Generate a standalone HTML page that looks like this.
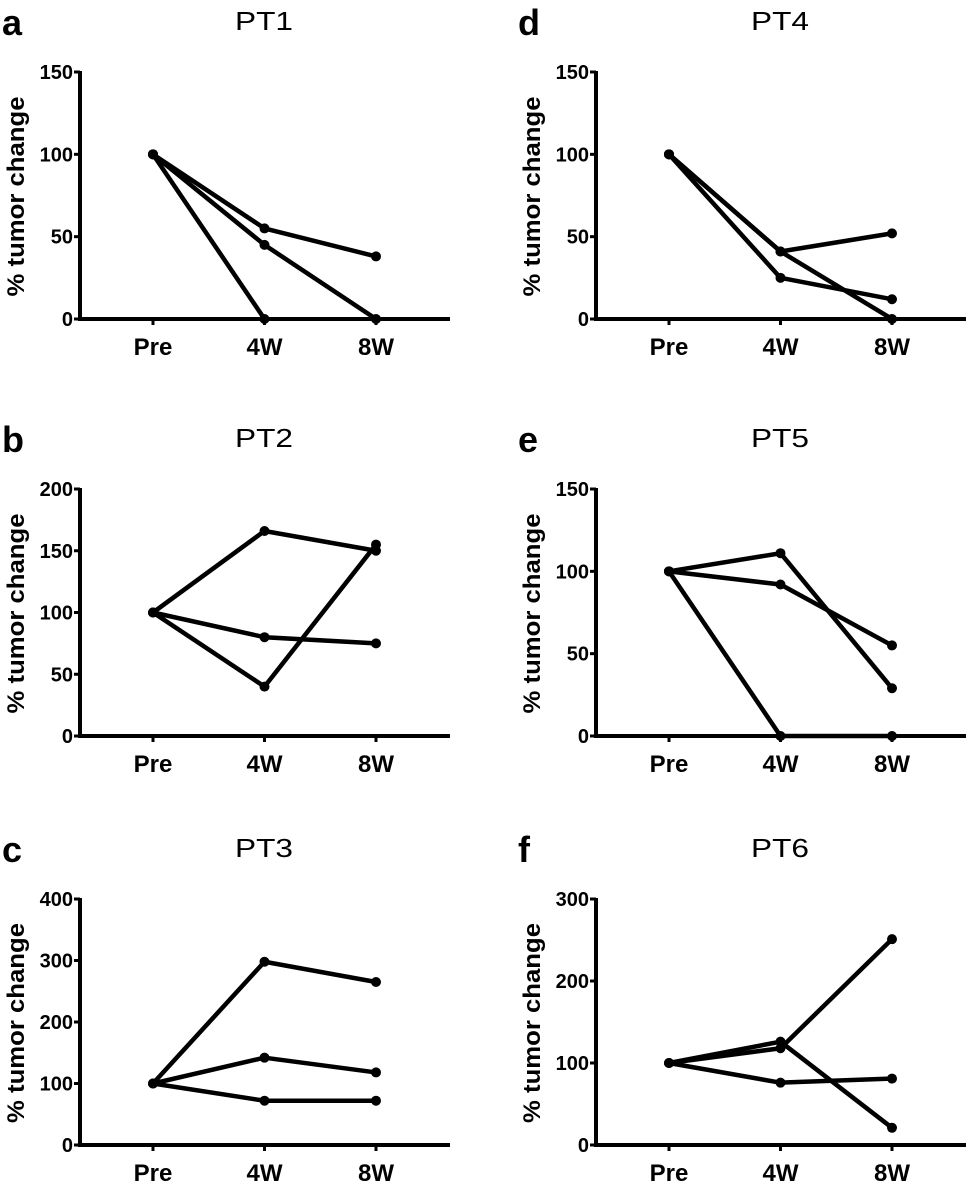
<!DOCTYPE html>
<html><head><meta charset="utf-8"><style>
html,body{margin:0;padding:0;background:#fff;}
svg{display:block;font-family:"Liberation Sans",sans-serif;}
</style></head><body>
<svg id="fig" width="969" height="1191" viewBox="0 0 969 1191"></svg>
<script>
const categories = ["Pre","4W","8W"];
const panelNames = ["PT1","PT2","PT3","PT4","PT5","PT6"];
const panelLetters = ["a","b","c","d","e","f"];
const yMaxes = [150,200,400,150,150,300];
const yTickLabels = [[0,50,100,150],[0,50,100,150,200],[0,100,200,300,400],[0,50,100,150],[0,50,100,150],[0,100,200,300]];
const pt1 = [[100,55,38],[100,45,0],[100,0,null]];
const pt2 = [[100,166,150],[100,80,75],[100,40,155]];
const pt3 = [[100,298,265],[100,142,118],[100,72,72]];
const pt4 = [[100,41,52],[100,25,12],[100,41,0]];
const pt5 = [[100,111,29],[100,92,55],[100,0,0]];
const pt6 = [[100,126,21],[100,118,251],[100,76,81]];
const seriesAll = [pt1,pt2,pt3,pt4,pt5,pt6];

const NS="http://www.w3.org/2000/svg";
const svg=document.getElementById('fig');
function mk(tag,attrs,parent){const e=document.createElementNS(NS,tag);for(const k in attrs)e.setAttribute(k,attrs[k]);(parent||svg).appendChild(e);return e;}
const layouts=[
 {ax:80,top:72,bot:319},{ax:80,top:489,bot:736},{ax:80,top:899,bot:1145},
 {ax:596,top:72,bot:319},{ax:596,top:489,bot:736},{ax:596,top:899,bot:1145}];
for(let p=0;p<6;p++){
  const L=layouts[p];
  const g=mk('g',{});
  
  
  const xs=i=>L.ax+73+i*111.5;
  const ys=v=>L.bot-(v/yMaxes[p])*(L.bot-L.top);
  let t=mk('text',{x:L.ax-78,y:L.top-37,'font-size':36,'font-weight':'bold'},g);t.textContent=panelLetters[p];
  
  t=mk('text',{x:L.ax+184,y:L.top-42,'font-size':26,'text-anchor':'middle',textLength:58,lengthAdjust:'spacingAndGlyphs'},g);t.textContent=panelNames[p];
  
  t=mk('text',{transform:`translate(${L.ax-56},${(L.top+L.bot)/2+1}) rotate(-90)`,'font-size':24,'font-weight':'bold','text-anchor':'middle',x:0,y:0,textLength:200,lengthAdjust:'spacingAndGlyphs'},g);t.textContent='% tumor change';
  
  let a=mk('line',{x1:L.ax,y1:L.top-1,x2:L.ax,y2:L.bot+2,stroke:'#000','stroke-width':4},g);
  
  a=mk('line',{x1:L.ax-2,y1:L.bot,x2:L.ax+370,y2:L.bot,stroke:'#000','stroke-width':4},g);
  
  yTickLabels[p].forEach(v=>{
    const tk=mk('line',{x1:L.ax-6,y1:ys(v),x2:L.ax,y2:ys(v),stroke:'#000','stroke-width':3},g);
    
    const tl=mk('text',{x:L.ax-7,y:ys(v)+7,'font-size':20,'font-weight':'bold','text-anchor':'end'},g);tl.textContent=v;
    
  });
  categories.forEach((c,i)=>{
    const tk=mk('line',{x1:xs(i),y1:L.bot,x2:xs(i),y2:L.bot+6,stroke:'#000','stroke-width':3},g);
    
    const tl=mk('text',{x:xs(i),y:L.bot+36,'font-size':24,'font-weight':'bold','text-anchor':'middle'},g);tl.textContent=c;
    
  });
  seriesAll[p].forEach((s,si)=>{
    const pts=[];s.forEach((v,i)=>{if(v!==null)pts.push([xs(i),ys(v)]);});
    const pl=mk('polyline',{points:pts.map(q=>q.join(',')).join(' '),fill:'none',stroke:'#000','stroke-width':4.5,'stroke-linejoin':'round'},g);
    
    pts.forEach(q=>{const c=mk('circle',{cx:q[0],cy:q[1],r:5,fill:'#000'},g);
      });
  });
}
</script>
</body></html>
